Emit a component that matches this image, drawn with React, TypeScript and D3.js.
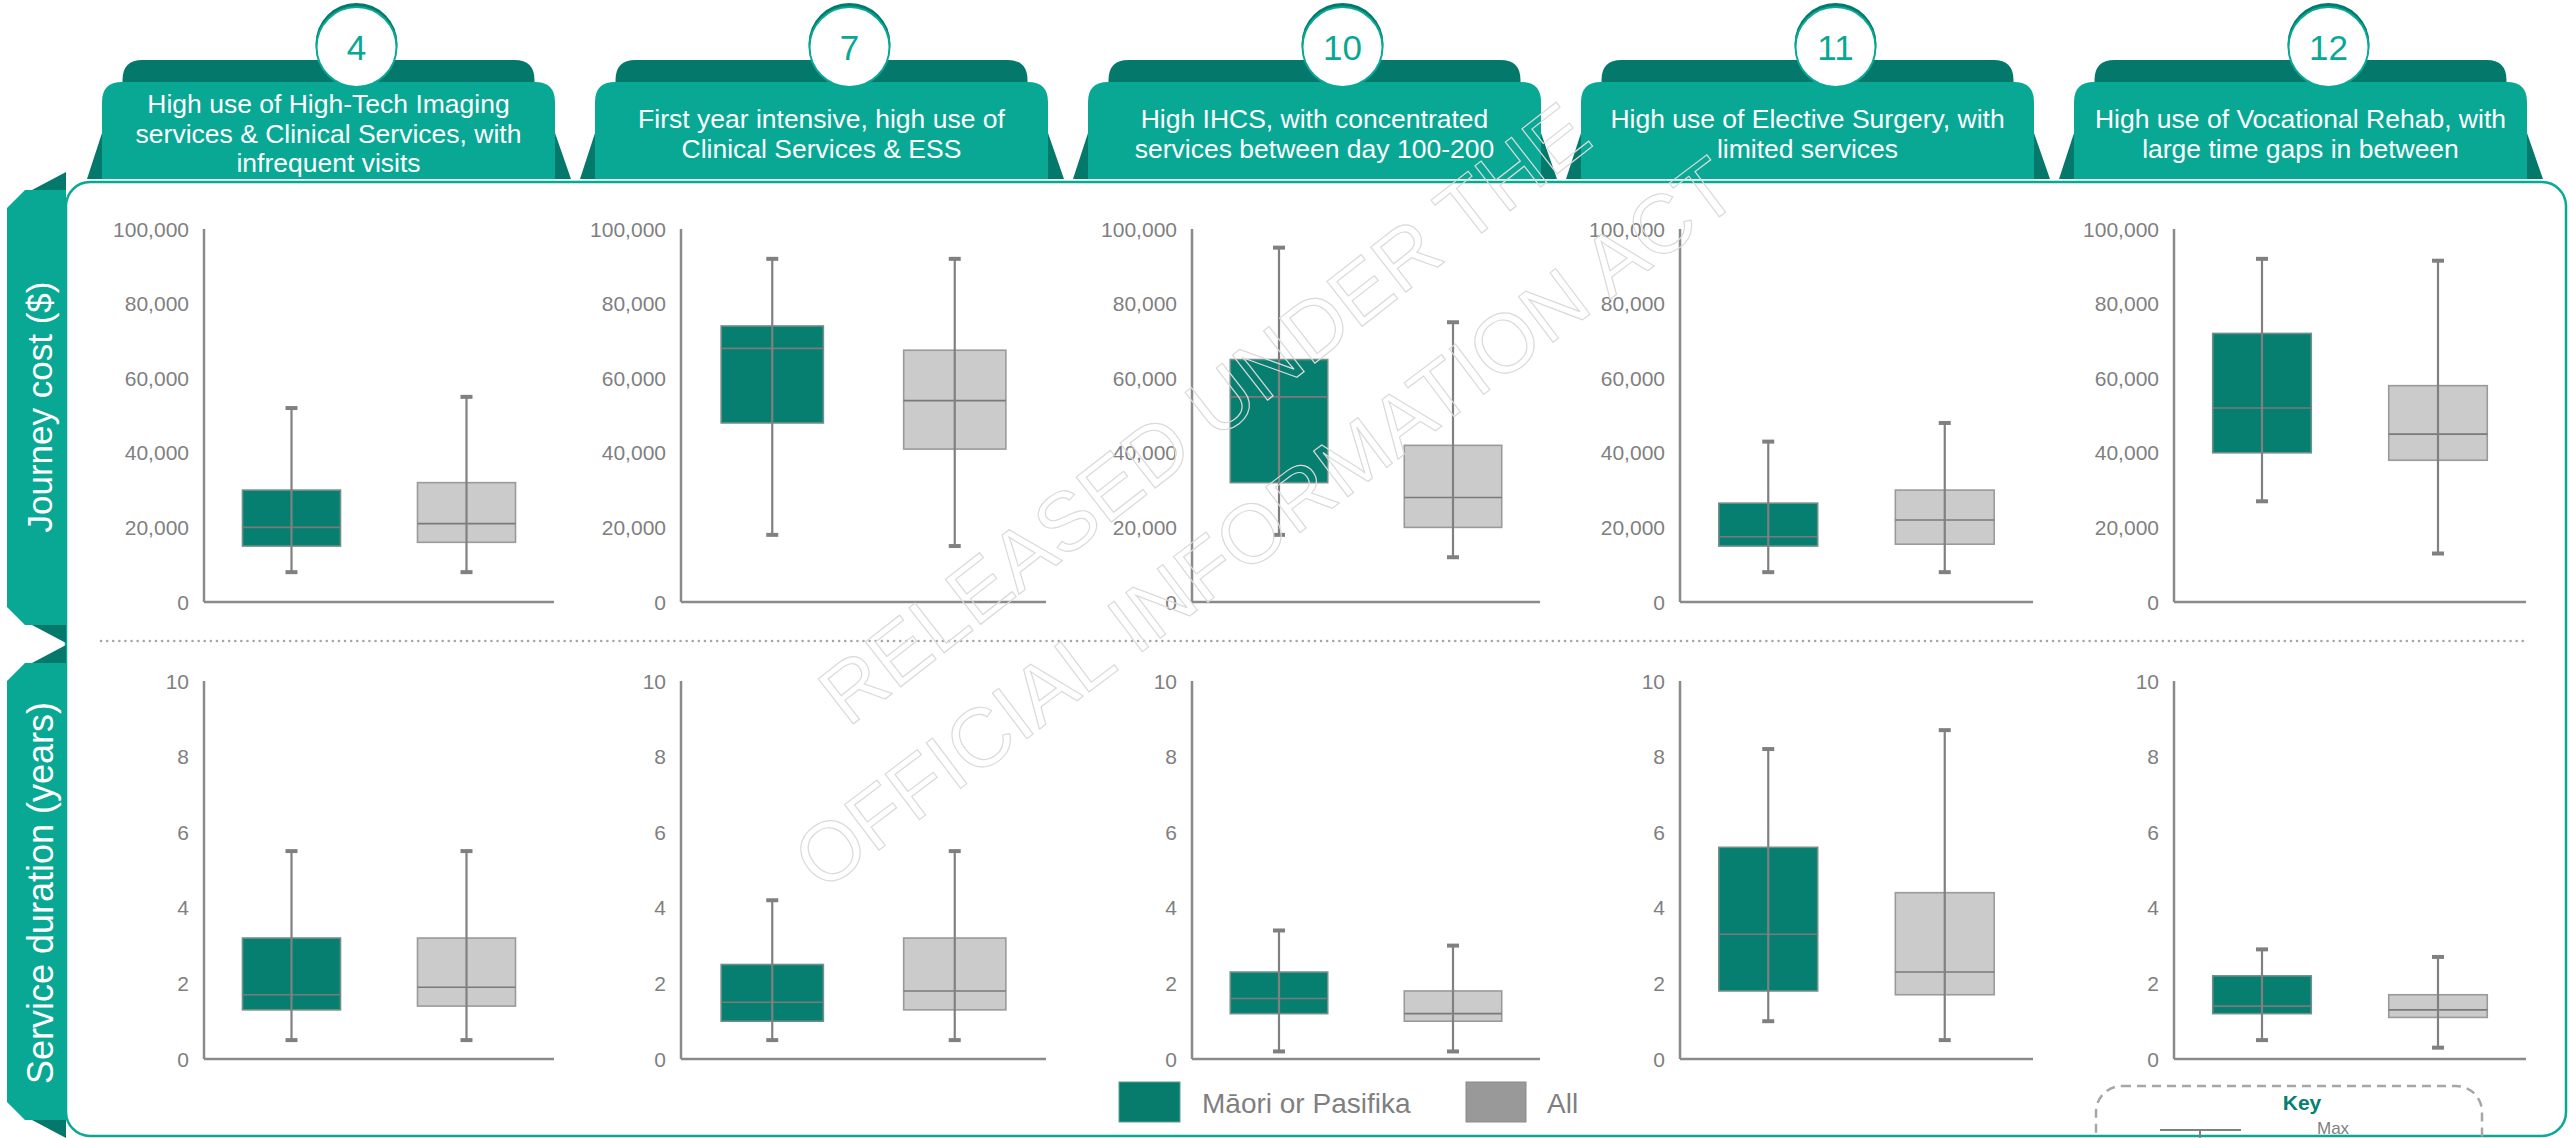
import React from 'react';
import * as d3 from 'd3';

// ---------- data ----------
const clusters = ['4', '7', '10', '11', '12'];
const clusterTitles = [
  ['High use of High-Tech Imaging', 'services & Clinical Services, with', 'infrequent visits'],
  ['First year intensive, high use of', 'Clinical Services & ESS'],
  ['High IHCS, with concentrated', 'services between day 100-200'],
  ['High use of Elective Surgery, with', 'limited services'],
  ['High use of Vocational Rehab, with', 'large time gaps in between'],
];
const groups = ['Māori or Pasifika', 'All'];
// [min, q1, median, q3, max]
const costMaori = [
  [8000, 15000, 20000, 30000, 52000],
  [18000, 48000, 68000, 74000, 92000],
  [18000, 32000, 55000, 65000, 95000],
  [8000, 15000, 17500, 26500, 43000],
  [27000, 40000, 52000, 72000, 92000],
];
const costAll = [
  [8000, 16000, 21000, 32000, 55000],
  [15000, 41000, 54000, 67500, 92000],
  [12000, 20000, 28000, 42000, 75000],
  [8000, 15500, 22000, 30000, 48000],
  [13000, 38000, 45000, 58000, 91500],
];
const durMaori = [
  [0.5, 1.3, 1.7, 3.2, 5.5],
  [0.5, 1.0, 1.5, 2.5, 4.2],
  [0.2, 1.2, 1.6, 2.3, 3.4],
  [1.0, 1.8, 3.3, 5.6, 8.2],
  [0.5, 1.2, 1.4, 2.2, 2.9],
];
const durAll = [
  [0.5, 1.4, 1.9, 3.2, 5.5],
  [0.5, 1.3, 1.8, 3.2, 5.5],
  [0.2, 1.0, 1.2, 1.8, 3.0],
  [0.5, 1.7, 2.3, 4.4, 8.7],
  [0.3, 1.1, 1.3, 1.7, 2.7],
];
const costTicks = [0, 20000, 40000, 60000, 80000, 100000];
const durTicks = [0, 2, 4, 6, 8, 10];
const rowLabels = ['Journey cost ($)', 'Service duration (years)'];

// ---------- layout ----------
const W = 2569;
const H = 1138;
const FONT = '"Liberation Sans", Arial, sans-serif';
const tabCenters = [328.5, 821.5, 1314.5, 1807.5, 2300.5];
const plotLeft = [204, 681, 1192, 1680, 2174];
const plotRight = [554, 1046, 1540, 2033, 2526];

const C_LIGHT = '#08a894';
const C_DARK = '#04786a';
const C_BOX = '#067f70';
const C_GREYBOX = '#cbcbcb';
const C_AXIS = '#8a8a8a';
const C_TEXT = '#7f7f7f';

const costY = d3.scaleLinear().domain([0, 100000]).range([602, 229]);
const durY = d3.scaleLinear().domain([0, 10]).range([1059, 681]);
const fmt = d3.format(',');

function BoxPlot({ stats, x, w, y, fill, stroke }: any) {
  const [mn, q1, md, q3, mx] = stats;
  const cx = x + w / 2;
  return (
    <g>
      <rect x={x} y={y(q3)} width={w} height={y(q1) - y(q3)} fill={fill} stroke={stroke} strokeWidth={1.6} />
      <line x1={x} x2={x + w} y1={y(md)} y2={y(md)} stroke="#7a7a7a" strokeWidth={1.6} />
      <line x1={cx} x2={cx} y1={y(mx)} y2={y(mn)} stroke="#808080" strokeWidth={2.2} />
      <line x1={cx - 6} x2={cx + 6} y1={y(mx)} y2={y(mx)} stroke="#808080" strokeWidth={4} />
      <line x1={cx - 6} x2={cx + 6} y1={y(mn)} y2={y(mn)} stroke="#808080" strokeWidth={4} />
    </g>
  );
}

function Panel({ i, y, ticks, maori, all, tickFmt }: any) {
  const x = d3.scaleBand<number>().domain([0, 1]).range([plotLeft[i], plotRight[i]]).paddingInner(0.44).paddingOuter(0.22);
  const [y0, y1] = y.range();
  return (
    <g>
      {ticks.map((t: number) => (
        <text key={t} x={plotLeft[i] - 15} y={y(t)} dy="0.36em" textAnchor="end" fontSize={21} fill={C_TEXT} fontFamily={FONT}>
          {tickFmt(t)}
        </text>
      ))}
      <line x1={plotLeft[i]} x2={plotLeft[i]} y1={y1} y2={y0} stroke={C_AXIS} strokeWidth={2.5} />
      <line x1={plotLeft[i]} x2={plotRight[i]} y1={y0} y2={y0} stroke={C_AXIS} strokeWidth={2.5} />
      <BoxPlot stats={maori} x={x(0)} w={x.bandwidth()} y={y} fill={C_BOX} stroke="#6f8f88" />
      <BoxPlot stats={all} x={x(1)} w={x.bandwidth()} y={y} fill={C_GREYBOX} stroke="#9a9a9a" />
    </g>
  );
}

function Header({ i }: any) {
  const c = tabCenters[i];
  const lines = clusterTitles[i];
  const n = lines.length;
  const mainL = c - 226.5, mainR = c + 226.5;
  const backL = c - 206, backR = c + 206;
  const r = 20;
  const mainPath = `M${mainL},179 L${mainL},${82 + r} Q${mainL},82 ${mainL + r},82 L${mainR - r},82 Q${mainR},82 ${mainR},${82 + r} L${mainR},179 Z`;
  const backPath = `M${backL},110 L${backL},${60 + r} Q${backL},60 ${backL + r},60 L${backR - r},60 Q${backR},60 ${backR},${60 + r} L${backR},110 Z`;
  const cx = c + 28;
  return (
    <g>
      <path d={backPath} fill={C_DARK} />
      <polygon points={`${mainL},133 ${mainL},179 ${mainL - 15},179`} fill={C_DARK} />
      <polygon points={`${mainR},133 ${mainR},179 ${mainR + 16},179`} fill={C_DARK} />
      <path d={mainPath} fill={C_LIGHT} />
      {lines.map((l: string, k: number) => (
        <text key={k} x={c} y={142.75 + (k - (n - 1) / 2) * 29.5} textAnchor="middle" fontSize={26.5} fill="#ffffff" fontFamily={FONT}>
          {l}
        </text>
      ))}
      <circle cx={cx} cy={44} r={41} fill={C_DARK} />
      <circle cx={cx} cy={47} r={40} fill="#ffffff" stroke={C_LIGHT} strokeWidth={2} />
      <text x={cx} y={47} dy="0.36em" textAnchor="middle" fontSize={35} fill={C_LIGHT} fontFamily={FONT}>
        {clusters[i]}
      </text>
    </g>
  );
}

export default function App() {
  React.useEffect(() => {
    document.body.style.margin = '0';
  }, []);
  return (
    <svg width={W} height={H} viewBox={`0 0 ${W} ${H}`} style={{ position: 'absolute', left: 0, top: 0, background: '#fff' }}>
      {/* frame */}
      <rect x={66} y={182} width={2500} height={954} rx={24} ry={24} fill="#ffffff" stroke={C_LIGHT} strokeWidth={2.5} />
      {/* left row tabs */}
      <polygon points="32,190 66,172 66,190" fill={C_DARK} />
      <polygon points="32,625 66,625 66,643" fill={C_DARK} />
      <polygon points="7,208 25,190 66,190 66,625 25,625 7,607" fill={C_LIGHT} />
      <polygon points="32,663 66,645 66,663" fill={C_DARK} />
      <polygon points="32,1120 66,1120 66,1138" fill={C_DARK} />
      <polygon points="7,681 25,663 66,663 66,1120 25,1120 7,1102" fill={C_LIGHT} />
      <text transform="translate(52,407) rotate(-90)" textAnchor="middle" fontSize={35} fill="#fff" fontFamily={FONT}>
        {rowLabels[0]}
      </text>
      <text transform="translate(53,893) rotate(-90)" textAnchor="middle" fontSize={36} fill="#fff" fontFamily={FONT}>
        {rowLabels[1]}
      </text>
      {/* headers */}
      {clusters.map((_, i) => (
        <Header key={i} i={i} />
      ))}
      {/* separator */}
      <line x1={101} x2={2528} y1={641} y2={641} stroke="#a6a6a6" strokeWidth={2.5} strokeDasharray="0.1 6" strokeLinecap="round" />
      {/* panels */}
      {clusters.map((_, i) => (
        <g key={i}>
          <Panel i={i} y={costY} ticks={costTicks} maori={costMaori[i]} all={costAll[i]} tickFmt={fmt} />
          <Panel i={i} y={durY} ticks={durTicks} maori={durMaori[i]} all={durAll[i]} tickFmt={(t: number) => String(t)} />
        </g>
      ))}
      {/* legend */}
      <rect x={1119} y={1082} width={61} height={40} fill="#077c6c" stroke="#5f9c92" strokeWidth={1} />
      <text x={1202} y={1113} fontSize={28} fill={C_TEXT} fontFamily={FONT}>{groups[0]}</text>
      <rect x={1466} y={1082} width={60} height={40} fill="#999999" stroke="#8a8a8a" strokeWidth={1} />
      <text x={1547} y={1113} fontSize={28} fill={C_TEXT} fontFamily={FONT}>{groups[1]}</text>
      {/* key */}
      <rect x={2096} y={1086} width={386} height={140} rx={26} ry={26} fill="none" stroke="#a6a6a6" strokeWidth={2.5} strokeDasharray="9 6" />
      <text x={2302} y={1110} textAnchor="middle" fontSize={21} fontWeight="bold" fill={C_BOX} fontFamily={FONT}>Key</text>
      <line x1={2160} x2={2241} y1={1130} y2={1130} stroke="#808080" strokeWidth={2} />
      <line x1={2200} x2={2200} y1={1130} y2={1140} stroke="#808080" strokeWidth={2} />
      <text x={2317} y={1134} fontSize={17} fill={C_TEXT} fontFamily={FONT}>Max</text>
      {/* watermark */}
      <g fill="none" stroke="#dadada" strokeWidth={1.2} fontFamily={FONT} fontSize={83}>
        <text transform="translate(848,728) rotate(-38)">RELEASED UNDER THE</text>
        <text transform="translate(822,893) rotate(-37)">OFFICIAL INFORMATION ACT</text>
      </g>
    </svg>
  );
}
